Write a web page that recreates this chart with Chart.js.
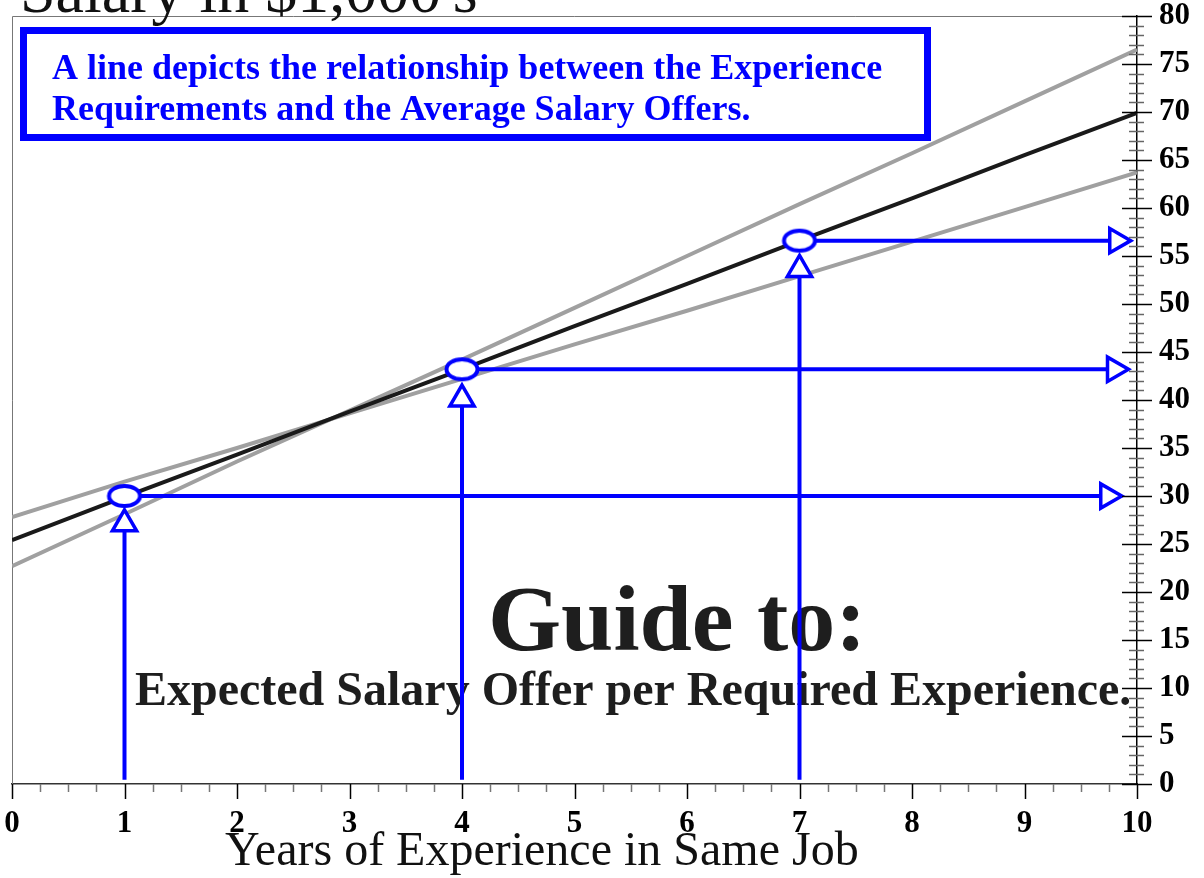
<!DOCTYPE html>
<html>
<head>
<meta charset="utf-8">
<script src="https://cdn.jsdelivr.net/npm/chart.js@4.4.1/dist/chart.umd.min.js"></script>
<style>
  html, body { margin: 0; padding: 0; background: #fff; }
  #wrap { width: 1204px; height: 878px; position: relative; }
</style>
</head>
<body>
<div id="wrap"><canvas id="salaryChart"></canvas></div>
<script>
// x = years of experience, y = salary in $1,000's
const years = [0, 1, 2, 3, 4, 5, 6, 7, 8, 9, 10];
const fitLine = [25.4, 29.9, 34.3, 38.8, 43.2, 47.7, 52.1, 56.6, 61.0, 65.5, 69.9];
const bandSteep = [22.7, 28.1, 33.6, 38.9, 44.2, 49.6, 55.0, 60.4, 65.7, 71.1, 76.5];
const bandFlat = [27.8, 31.5, 35.0, 38.6, 42.2, 45.8, 49.3, 52.9, 56.5, 60.1, 63.7];

// guide points
const guideYears = [1, 4, 7];
const guideSalary = [30, 43.2, 56.6];
const upArrowHead = [27.1, 40.1, 53.6];   // salary where the upward arrowheads sit
const rightArrowHead = [9.74, 9.8, 9.82]; // years where the right arrowheads sit
const arrowFoot = 0.45;

const BLUE = "#0000ff";

// open ellipse used as marker
function makeEllipse() {
    const c = document.createElement("canvas");
    c.width = 40; c.height = 30;
    const g = c.getContext("2d");
    g.beginPath();
    g.ellipse(20, 15, 15.5, 10, 0, 0, Math.PI * 2);
    g.fillStyle = "#fff";
    g.fill();
    g.lineWidth = 4;
    g.strokeStyle = BLUE;
    g.stroke();
    return c;
}

const datasets = [];

datasets.push({
    label: "guide points",
    data: guideYears.map((x, i) => ({ x: x, y: guideSalary[i] })),
    showLine: false,
    pointStyle: makeEllipse(),
    pointRadius: 12
});

guideYears.forEach((x, i) => {
    datasets.push({
        label: "up " + x,
        data: [{ x: x, y: arrowFoot }, { x: x, y: upArrowHead[i] }],
        borderColor: BLUE,
        borderWidth: 4,
        pointStyle: "triangle",
        pointRadius: [0, 14],
        pointBackgroundColor: "#fff",
        pointBorderColor: BLUE,
        pointBorderWidth: 3.5
    });
    datasets.push({
        label: "right " + x,
        data: [{ x: x, y: guideSalary[i] }, { x: rightArrowHead[i], y: guideSalary[i] }],
        borderColor: BLUE,
        borderWidth: 4,
        pointStyle: "triangle",
        pointRotation: 90,
        pointRadius: [0, 14],
        pointBackgroundColor: "#fff",
        pointBorderColor: BLUE,
        pointBorderWidth: 3.5
    });
});

datasets.push({
    label: "fit",
    data: years.map((x, i) => ({ x: x, y: fitLine[i] })),
    borderColor: "#1a1a1a",
    borderWidth: 4,
    pointRadius: 0
});
datasets.push({
    label: "band steep",
    data: years.map((x, i) => ({ x: x, y: bandSteep[i] })),
    borderColor: "#a0a0a0",
    borderWidth: 4,
    pointRadius: 0
});
datasets.push({
    label: "band flat",
    data: years.map((x, i) => ({ x: x, y: bandFlat[i] })),
    borderColor: "#a0a0a0",
    borderWidth: 4,
    pointRadius: 0
});

// texts, box and plot frame under the marks
const overlayText = {
    id: "overlayText",
    beforeDatasetsDraw(chart) {
        const { ctx, chartArea } = chart;
        ctx.save();
        ctx.strokeStyle = "#777";
        ctx.lineWidth = 1;
        ctx.beginPath();
        ctx.moveTo(chartArea.left + 0.5, chartArea.bottom);
        ctx.lineTo(chartArea.left + 0.5, chartArea.top + 0.5);
        ctx.lineTo(chartArea.right, chartArea.top + 0.5);
        ctx.stroke();

        ctx.textBaseline = "alphabetic";
        ctx.textAlign = "left";
        ctx.fillStyle = "#111";
        ctx.font = '64px "Liberation Serif"';
        ctx.fillText("Salary in $1,000's", 20, 12);

        ctx.strokeStyle = BLUE;
        ctx.lineWidth = 7;
        ctx.strokeRect(23.5, 30.5, 904, 107);
        ctx.fillStyle = BLUE;
        ctx.font = 'bold 36px "Liberation Serif"';
        ctx.fillText("A line depicts the relationship between the Experience", 52, 79);
        ctx.fillText("Requirements and the Average Salary Offers.", 52, 120);

        ctx.fillStyle = "#1e1e1e";
        ctx.font = 'bold 94px "Liberation Serif"';
        ctx.fillText("Guide to:", 488, 650);
        ctx.font = 'bold 48px "Liberation Serif"';
        ctx.fillText("Expected Salary Offer per Required Experience.", 135, 705);

        ctx.fillStyle = "#111";
        ctx.font = '48px "Liberation Serif"';
        ctx.fillText("Years of Experience in Same Job", 225, 865);
        ctx.restore();
    }
};

// major and minor tick marks on both axes
const axisTicks = {
    id: "axisTicks",
    afterDatasetsDraw(chart) {
        const { ctx } = chart;
        const xs = chart.scales.x, ys = chart.scales.y;
        const ax = ys.left, ay = xs.top;
        ctx.save();
        ctx.lineWidth = 1.5;
        for (let v = 0; v <= 80; v++) {
            const py = Math.round(ys.getPixelForValue(v)) + 0.5;
            ctx.beginPath();
            if (v % 5 === 0) {
                ctx.strokeStyle = "#000";
                ctx.moveTo(ax - 15, py); ctx.lineTo(ax + 15, py);
            } else {
                ctx.strokeStyle = "#666";
                ctx.moveTo(ax - 8, py); ctx.lineTo(ax + 7, py);
            }
            ctx.stroke();
        }
        for (let q = 0; q <= 40; q++) {
            const px = Math.round(xs.getPixelForValue(q / 4)) + 0.5;
            ctx.beginPath();
            if (q % 4 === 0) {
                ctx.strokeStyle = "#000";
                ctx.moveTo(px, ay); ctx.lineTo(px, ay + 15);
            } else {
                ctx.strokeStyle = "#777";
                ctx.moveTo(px, ay); ctx.lineTo(px, ay + 8);
            }
            ctx.stroke();
        }
        ctx.restore();
    }
};

const tickFont = { family: "Liberation Serif", size: 31, weight: "bold", lineHeight: 1 };

new Chart(document.getElementById("salaryChart"), {
    type: "line",
    data: { datasets: datasets },
    options: {
        responsive: true,
        maintainAspectRatio: false,
        animation: false,
        layout: { autoPadding: false, padding: { left: 12, top: 16, right: 0, bottom: 0 } },
        plugins: { legend: { display: false }, tooltip: { enabled: false } },
        elements: { line: { tension: 0, fill: false } },
        scales: {
            x: {
                type: "linear",
                position: "bottom",
                min: 0, max: 10,
                // invisible tick marks only push the labels away from the axis
                grid: { drawOnChartArea: false, drawTicks: true, tickLength: 24, tickColor: "rgba(0,0,0,0)" },
                border: { display: true, color: "#333", width: 1.5 },
                ticks: { stepSize: 1, color: "#000", font: tickFont, padding: 0, maxRotation: 0 },
                afterFit(s) { s.height = 94; }
            },
            y: {
                type: "linear",
                position: "right",
                min: 0, max: 80,
                grid: { drawOnChartArea: false, drawTicks: true, tickLength: 22, tickColor: "rgba(0,0,0,0)" },
                border: { display: true, color: "#000", width: 1.5 },
                ticks: { stepSize: 5, color: "#000", font: tickFont, padding: 0, autoSkip: false },
                afterFit(s) { s.width = 67; }
            }
        }
    },
    plugins: [overlayText, axisTicks]
});
</script>
</body>
</html>
